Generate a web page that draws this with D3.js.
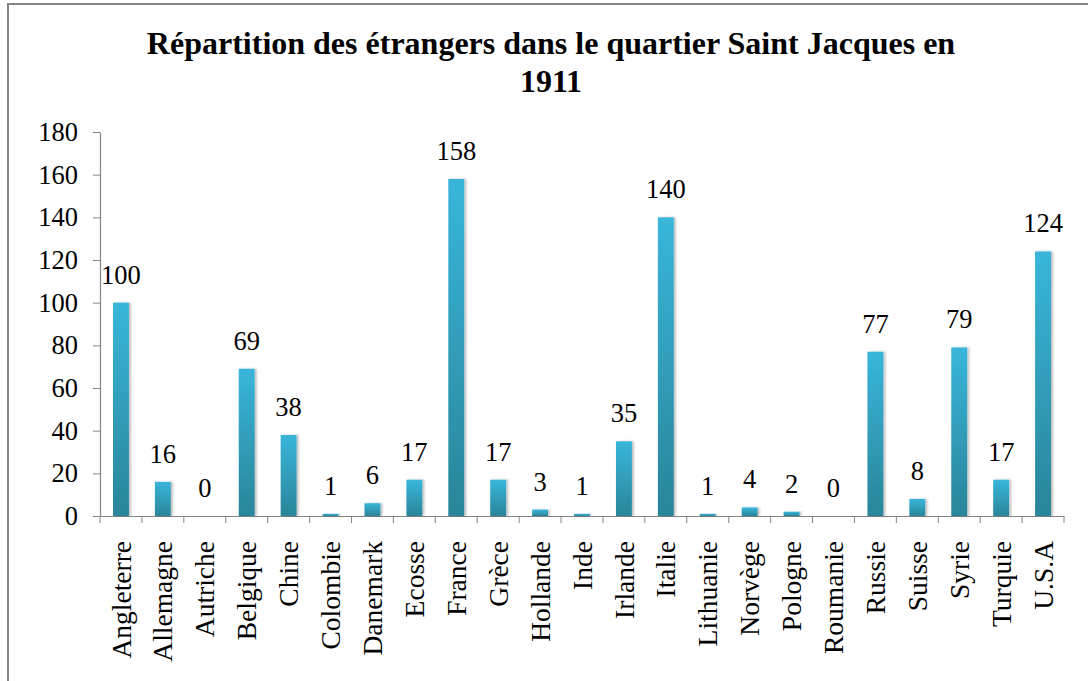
<!DOCTYPE html>
<html>
<head>
<meta charset="utf-8">
<script src="https://cdn.jsdelivr.net/npm/d3@7"></script>
<style>
  html, body { margin: 0; padding: 0; background: #fff; }
  svg { display: block; }
  svg text { font-family: "Liberation Serif", "Times New Roman", Tinos, "DejaVu Serif", serif; }
</style>
</head>
<body>
<div id="chart"></div>
<script>
// Données du graphique
var pays = ["Angleterre", "Allemagne", "Autriche", "Belgique", "Chine", "Colombie",
  "Danemark", "Ecosse", "France", "Grèce", "Hollande", "Inde", "Irlande", "Italie",
  "Lithuanie", "Norvège", "Pologne", "Roumanie", "Russie", "Suisse", "Syrie",
  "Turquie", "U.S.A"];
var effectifs = [100, 16, 0, 69, 38, 1, 6, 17, 158, 17, 3, 1, 35, 140, 1, 4, 2, 0, 77, 8, 79, 17, 124];
var yTicks = [0, 20, 40, 60, 80, 100, 120, 140, 160, 180];
var titre = ["Répartition des étrangers dans le quartier Saint Jacques en", "1911"];

var W = 1088, H = 681;
var margin = {top: 132, right: 24, bottom: 165, left: 100},
    width = W - margin.left - margin.right,
    height = H - margin.top - margin.bottom;

var svg = d3.select("#chart")
  .append("svg")
    .attr("width", W)
    .attr("height", H);

// gradient + ombre
var defs = svg.append("defs");
var grad = defs.append("linearGradient")
  .attr("id", "barGrad")
  .attr("x1", 0).attr("y1", 0).attr("x2", 0).attr("y2", 1);
grad.append("stop").attr("offset", "0%").attr("stop-color", "#38b6da");
grad.append("stop").attr("offset", "100%").attr("stop-color", "#2a8599");

var shadow = defs.append("filter").attr("id", "ombre")
  .attr("x", "-50%").attr("y", "-10%").attr("width", "200%").attr("height", "120%");
shadow.append("feDropShadow")
  .attr("dx", 2).attr("dy", 0).attr("stdDeviation", 1.2)
  .attr("flood-color", "#000").attr("flood-opacity", 0.25);

// cadre
svg.append("rect")
  .attr("x", 8).attr("y", 4)
  .attr("width", W).attr("height", H)
  .attr("fill", "none")
  .attr("stroke", "#858585")
  .attr("stroke-width", 2);

// titre
svg.append("text")
  .attr("text-anchor", "middle")
  .attr("font-weight", "bold")
  .attr("font-size", "32px")
  .attr("x", 551)
  .selectAll("tspan")
  .data(titre)
  .enter().append("tspan")
    .attr("x", 551)
    .attr("y", function(d, i) { return 54 + i * 38; })
    .text(function(d) { return d; });

var g = svg.append("g")
  .attr("transform", "translate(" + margin.left + "," + margin.top + ")");

var x = d3.scaleBand()
  .domain(pays)
  .range([0, width])
  .padding(0);

var y = d3.scaleLinear()
  .domain([0, 180])
  .range([height, 0]);

// Axe Y
var yAxis = g.append("g")
  .call(d3.axisLeft(y).tickValues(yTicks).tickSize(7).tickPadding(15).tickSizeOuter(0));
yAxis.attr("font-family", null);
yAxis.select(".domain").attr("stroke", "#868686").attr("stroke-width", 1.2);
yAxis.selectAll(".tick line").attr("stroke", "#868686");
yAxis.selectAll("text")
  .attr("font-size", "26.5px")
  .attr("fill", "#000");

// Axe X
var xAxis = g.append("g")
  .attr("transform", "translate(0," + height + ")")
  .call(d3.axisBottom(x).tickSize(0).tickSizeOuter(0));
xAxis.attr("font-family", null);
xAxis.select(".domain").attr("stroke", "#868686").attr("stroke-width", 1.2);
xAxis.selectAll("text")
  .attr("font-size", "27.5px")
  .attr("fill", "#000")
  .attr("text-anchor", "end")
  .attr("transform", "rotate(-90)")
  .attr("x", -25)
  .attr("y", 0)
  .attr("dy", "0.35em");

// graduations entre catégories
g.append("g")
  .selectAll("line")
  .data(pays.concat([null]))
  .enter().append("line")
    .attr("x1", function(d, i) { return i * x.step(); })
    .attr("x2", function(d, i) { return i * x.step(); })
    .attr("y1", height)
    .attr("y2", height + 7)
    .attr("stroke", "#868686");

// barres
var bw = x.bandwidth() * 0.38;
g.append("g")
  .selectAll("rect")
  .data(effectifs)
  .enter().append("rect")
    .attr("x", function(d, i) { return x(pays[i]) + (x.bandwidth() - bw) / 2; })
    .attr("y", function(d) { return y(d); })
    .attr("width", bw)
    .attr("height", function(d) { return height - y(d); })
    .attr("fill", "url(#barGrad)")
    .attr("filter", "url(#ombre)");

// étiquettes de valeurs
g.append("g")
  .selectAll("text")
  .data(effectifs)
  .enter().append("text")
    .attr("text-anchor", "middle")
    .attr("font-size", "26.5px")
    .attr("x", function(d, i) { return x(pays[i]) + x.bandwidth() / 2; })
    .attr("y", function(d) { return y(d) - 19; })
    .text(function(d) { return d; });
</script>
</body>
</html>
